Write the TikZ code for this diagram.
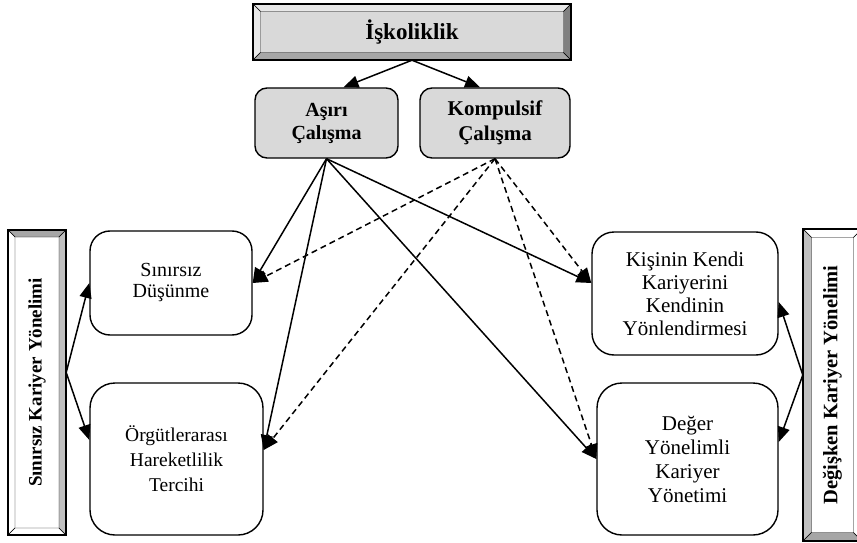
\documentclass[tikz,border=0pt]{standalone}
\usepackage{fontspec}
\setmainfont{Liberation Serif}
\usetikzlibrary{arrows.meta,calc}
\definecolor{boxgray}{HTML}{D9D9D9}
\definecolor{lightbevel}{HTML}{E8E8E8}
\definecolor{midbevel}{HTML}{A6A6A6}
\definecolor{darkbevel}{HTML}{808080}
\definecolor{sidebevel}{HTML}{C0C0C0}
% beveled frame: (x1,y1)(x2,y2)[depth]{top}{left}{bottom}{right}
\def\bevelbox(#1,#2)(#3,#4)[#5]#6#7#8#9{
	\draw[fill=#6] (#1,#2) -- (#3,#2) -- ({#3-#5},{#2+#5}) -- ({#1+#5},{#2+#5}) -- cycle;
	\draw[fill=#7] (#1,#2) -- ({#1+#5},{#2+#5}) -- ({#1+#5},{#4-#5}) -- (#1,#4) -- cycle;
	\draw[fill=#8] (#1,#4) -- ({#1+#5},{#4-#5}) -- ({#3-#5},{#4-#5}) -- (#3,#4) -- cycle;
	\draw[fill=#9] (#3,#2) -- (#3,#4) -- ({#3-#5},{#4-#5}) -- ({#3-#5},{#2+#5}) -- cycle;
	\draw[line width=1.5pt] (#1,#2) rectangle (#3,#4);
}

\begin{document}
\begin{tikzpicture}[x=1pt,y=-1pt,
	kutu/.style={draw, line width=1.4pt, fill=white, align=center, inner sep=0pt},
	gri/.style={kutu, fill=boxgray, rounded corners=12pt},
	cerceve/.style={inner sep=0pt, font=\bfseries},
	ok/.style={line width=1.5pt, -{Triangle[length=15pt,width=12pt]}},
	kesik/.style={ok, dash pattern=on 6pt off 4pt}]
	%%%%% START %%%%%
	\useasboundingbox (0,0) rectangle (857,543);
	\clip (0,0) rectangle (857,543);
	
	% frames
	\fill[boxgray] (261,11) rectangle (563,52);
	\bevelbox(253,4)(571,60)[7.5]{lightbevel}{lightbevel}{midbevel}{darkbevel}
	\bevelbox(8,230)(66,535)[7]{midbevel}{white}{white}{sidebevel}
	\bevelbox(803,229)(862,541)[8.5]{white}{sidebevel}{midbevel}{white}
	
	\node[cerceve, minimum width=318pt, minimum height=56pt, font=\bfseries\fontsize{23}{26}\selectfont] (isko) at (412,32) {İşkoliklik};
	\node[cerceve, rotate=90, minimum width=305pt, minimum height=58pt, font=\bfseries\fontsize{19}{22}\selectfont] (sky) at (37,382.5) {Sınırsız Kariyer Yönelimi};
	\node[cerceve, rotate=90, minimum width=312pt, minimum height=59pt, font=\bfseries\fontsize{20.5}{22}\selectfont] (dky) at (832.5,385) {Değişken Kariyer Yönelimi};
	
	% gray boxes
	\node[gri, minimum width=143pt, minimum height=70pt, font=\bfseries\fontsize{20}{23}\selectfont] (asiri) at (326.5,123) {Aşırı\\Çalışma};
	\node[gri, minimum width=150pt, minimum height=70pt, font=\bfseries\fontsize{21}{25}\selectfont] (kompulsif) at (495,123) {Kompulsif\\Çalışma};
	
	% white boxes
	\node[kutu, rounded corners=20pt, minimum width=162pt, minimum height=104pt, font=\fontsize{20}{21}\selectfont] (sinirsiz) at (171,283) {Sınırsız\\Düşünme};
	\node[kutu, rounded corners=25pt, minimum width=173pt, minimum height=152pt, font=\fontsize{19.5}{25}\selectfont] (orgut) at (176.5,459) {Örgütlerarası\\Hareketlilik\\Tercihi};
	\node[kutu, rounded corners=22pt, minimum width=186pt, minimum height=123pt, font=\fontsize{21}{23}\selectfont] (kisinin) at (685,293.5) {Kişinin Kendi\\Kariyerini\\Kendinin\\Yönlendirmesi};
	\node[kutu, rounded corners=25pt, minimum width=181pt, minimum height=152pt, font=\fontsize{21}{24}\selectfont] (deger) at (687.5,459) {Değer\\Yönelimli\\Kariyer\\Yönetimi};
	
	% arrows
	\draw[ok] (isko.south) -- ([xshift=17pt]asiri.north);
	\draw[ok] (isko.south) -- ([xshift=-15pt]kompulsif.north);
	
	\draw[ok] ([yshift=10pt]sky.south) -- (sinirsiz.west);
	\draw[ok] ([yshift=10pt]sky.south) -- ([yshift=19pt]orgut.west);
	\draw[ok] ([yshift=10pt]dky.north) -- ([yshift=-8.5pt]kisinin.east);
	\draw[ok] ([yshift=10pt]dky.north) -- ([yshift=17pt]deger.east);
	
	\draw[ok] (asiri.south) -- (sinirsiz.east);
	\draw[ok] (asiri.south) -- ([yshift=9pt]orgut.east);
	\draw[ok] (asiri.south) -- ([yshift=10.5pt]kisinin.west);
	\draw[ok] (asiri.south) -- (deger.west);
	
	\draw[kesik] (kompulsif.south) -- (sinirsiz.east);
	\draw[kesik] (kompulsif.south) -- ([yshift=9pt]orgut.east);
	\draw[kesik] (kompulsif.south) -- ([yshift=10.5pt]kisinin.west);
	\draw[kesik] (kompulsif.south) -- (deger.west);
	%%%%% END %%%%%
\end{tikzpicture}
\end{document}
